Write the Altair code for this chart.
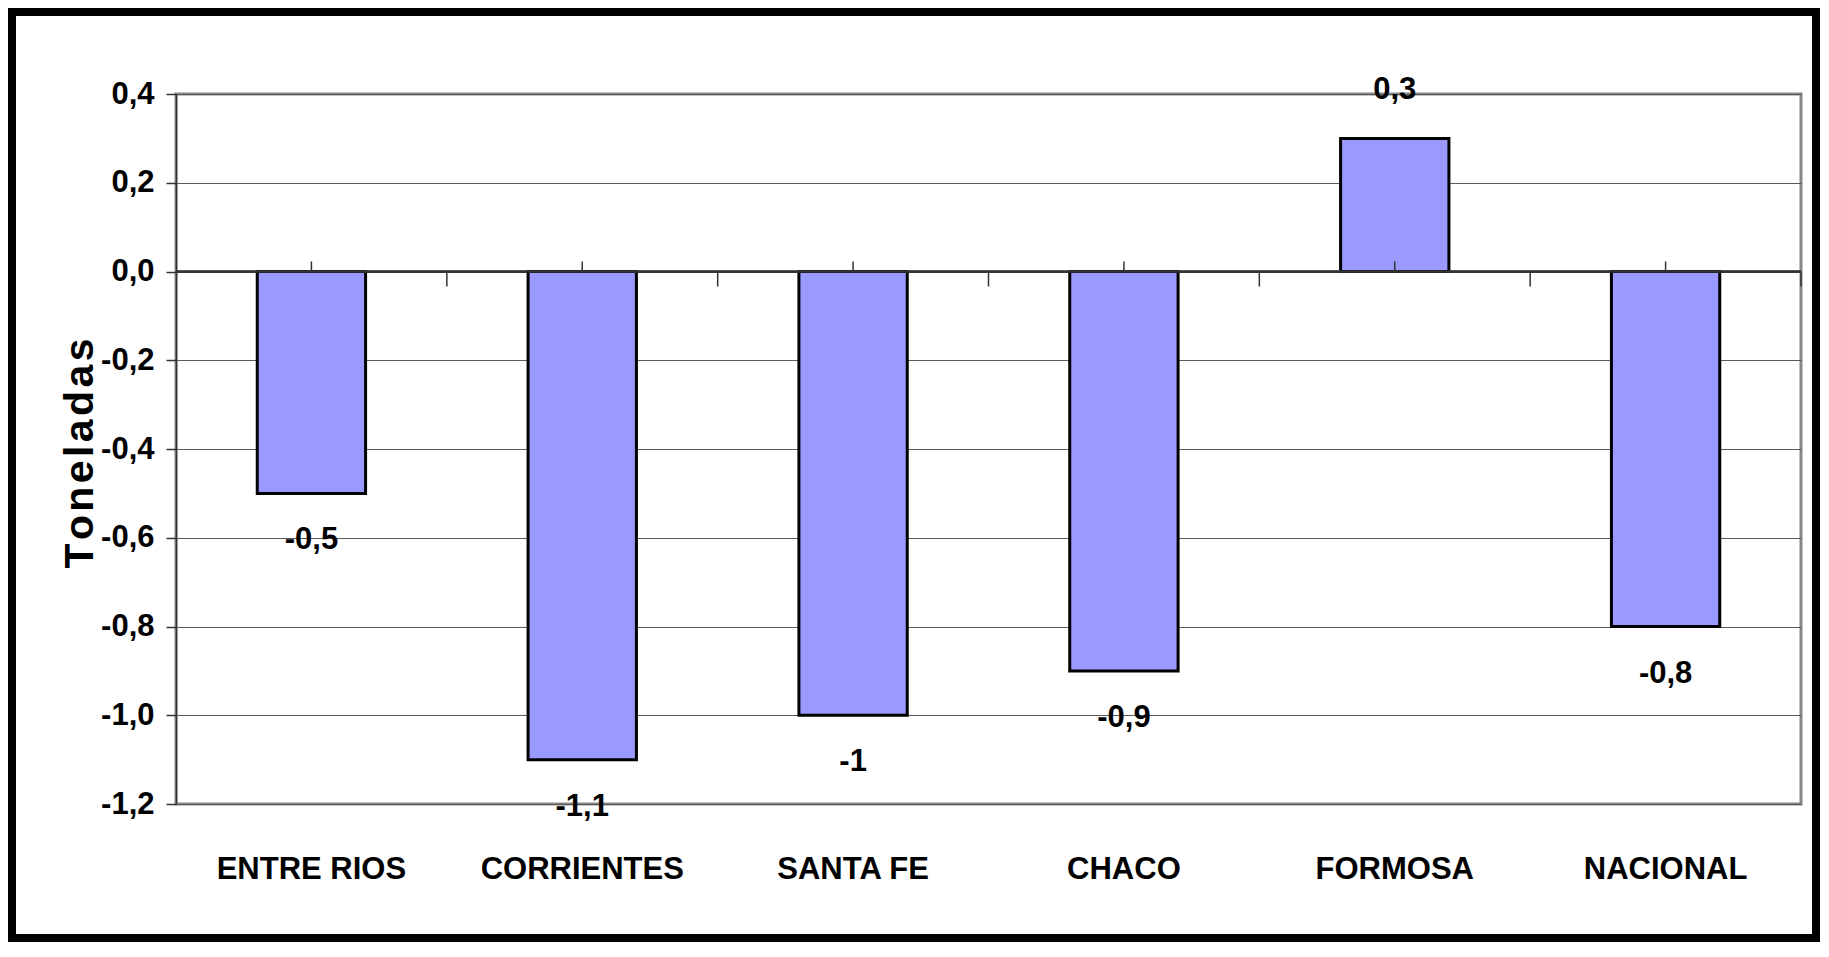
import altair as alt
import pandas as pd

categories = ["ENTRE RIOS", "CORRIENTES", "SANTA FE", "CHACO", "FORMOSA", "NACIONAL"]
values = [-0.5, -1.1, -1.0, -0.9, 0.3, -0.8]
y_ticks = [0.4, 0.2, 0.0, -0.2, -0.4, -0.6, -0.8, -1.0, -1.2]
y_title = "T\u200ao\u200an\u200ae\u200al\u200aa\u200ad\u200aa\u200as"

labels = [f"{v:g}".replace(".", ",") for v in values]
df = pd.DataFrame({"cat": categories, "val": values, "lbl": labels})
frame_df = pd.DataFrame({"k": [0]})

FONT = "Liberation Sans, Arial, sans-serif"
FS = 31

W, H = 1625, 710

xscale = alt.Scale(domain=categories, paddingInner=0.6, paddingOuter=0.3)
yscale = alt.Scale(domain=[-1.2, 0.4], nice=False, zero=False)

x_enc = alt.X("cat:N", scale=xscale, sort=categories,
              axis=alt.Axis(title=None, orient="bottom", domain=False, ticks=False,
                            grid=False, labelFont=FONT, labelFontSize=FS,
                            labelFontWeight="bold", labelColor="black", labelLimit=0,
                            labelAngle=0, labelPadding=65, labelBaseline="middle"))
y_enc = alt.Y("val:Q", scale=yscale,
              axis=alt.Axis(title=y_title, values=y_ticks,
                            labelExpr="replace(replace(format(datum.value, '.1f'), '.', ','), '\u2212', '-')",
                            labelFont=FONT, labelFontSize=FS, labelFontWeight="bold",
                            labelColor="black", labelPadding=12, labelLimit=0,
                            tickSize=10, tickColor="#333333", tickWidth=1.5,
                            domainColor="#333333", domainWidth=1.5,
                            gridColor="#5a5a5a", gridWidth=1.2,
                            titleFont=FONT, titleFontSize=41, titleFontWeight="bold",
                            titleColor="black", titleX=-84, titleY=H / 2 + 4,
                            titleAngle=270, titleBaseline="alphabetic", titleAlign="center"))

base = alt.Chart(df)

bars = base.mark_bar(color="#9999FF", stroke="black", strokeWidth=3).encode(
    x=x_enc, y=y_enc, y2=alt.datum(0)
)

zero_line = base.mark_rule(color="#333333", strokeWidth=1.5).encode(y=alt.datum(0))

step = W / (len(categories) - 0.6 + 0.6)
boundary_ticks = base.mark_rule(color="#333333", strokeWidth=1.5,
                                xOffset=step / 2, y2Offset=15).encode(
    x=alt.X("cat:N", scale=xscale, sort=categories),
    y=alt.datum(0), y2=alt.datum(0)
)
center_ticks = base.mark_rule(color="#333333", strokeWidth=1.5, y2Offset=-10).encode(
    x=alt.X("cat:N", scale=xscale, sort=categories),
    y=alt.datum(0), y2=alt.datum(0)
)

neg_text = base.transform_filter("datum.val < 0").mark_text(
    font=FONT, fontSize=FS, fontWeight="bold", color="black",
    baseline="middle", dy=47).encode(
    x=alt.X("cat:N", scale=xscale, sort=categories), y=alt.Y("val:Q", scale=yscale), text="lbl:N"
)
pos_text = base.transform_filter("datum.val >= 0").mark_text(
    font=FONT, fontSize=FS, fontWeight="bold", color="black",
    baseline="middle", dy=-48).encode(
    x=alt.X("cat:N", scale=xscale, sort=categories), y=alt.Y("val:Q", scale=yscale), text="lbl:N"
)

frame = alt.Chart(frame_df).mark_rect(filled=False, stroke="black", strokeWidth=8).encode(
    x=alt.value(-164), x2=alt.value(1640), y=alt.value(-82), y2=alt.value(844)
)

chart = alt.layer(
    bars, zero_line, boundary_ticks, center_ticks, neg_text, pos_text, frame
).properties(
    width=W, height=H,
    autosize=alt.AutoSizeParams(type="none"),
    padding={"left": 168, "top": 86, "right": 19, "bottom": 139},
    background="white",
).configure_view(
    stroke="#888888", strokeWidth=3
)

chart.save("out.html", embed_options={"renderer": "svg", "actions": False})
